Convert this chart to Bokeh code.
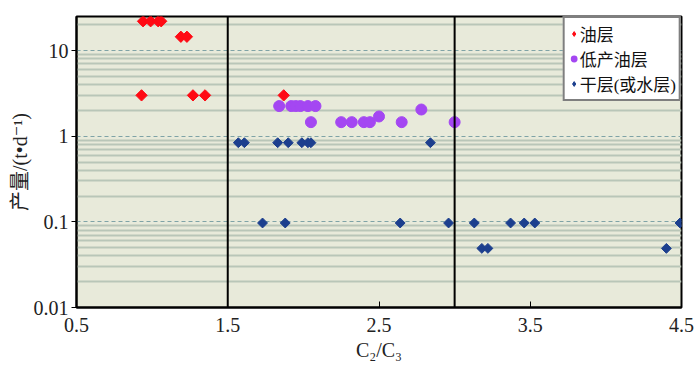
import math
from bokeh.plotting import figure
from bokeh.models import (Range1d, FixedTicker, CustomJSTickFormatter, Span,
                          Legend, LegendItem)
from bokeh.embed import file_html
from bokeh.resources import INLINE

# ---------------- data ----------------
oil_x = [0.94, 0.99, 1.04, 1.06, 1.19, 1.23, 0.93, 1.27, 1.35, 1.87]
oil_y = [22, 22, 22, 22, 14.5, 14.5, 3.0, 3.0, 3.0, 3.0]

low_x = [1.84, 1.92, 1.95, 1.98, 2.03, 2.08, 2.05, 2.25, 2.32, 2.40, 2.44, 2.50, 2.65, 2.78, 3.00]
low_y = [2.25, 2.25, 2.25, 2.25, 2.25, 2.25, 1.46, 1.46, 1.46, 1.46, 1.46, 1.70, 1.46, 2.05, 1.46]

dry_x = [1.57, 1.61, 1.83, 1.90, 1.99, 2.03, 2.05, 2.84,
         1.73, 1.88, 2.64, 2.96, 3.13, 3.37, 3.46, 3.53, 4.49,
         3.18, 3.22, 4.40]
dry_y = [0.84, 0.84, 0.84, 0.84, 0.84, 0.84, 0.84, 0.84,
         0.097, 0.097, 0.097, 0.097, 0.097, 0.097, 0.097, 0.097, 0.097,
         0.049, 0.049, 0.049]

thresholds = [1.5, 3.0]
x_ticks = [0.5, 1.5, 2.5, 3.5, 4.5]
y_ticks = [0.01, 0.1, 1, 10]
y_minor = [m * 10 ** e for e in range(-2, 2) for m in range(2, 10)]

series_names = ["油层", "低产油层", "干层(或水层)"]

# ---------------- figure ----------------
p = figure(width=696, height=384, output_backend="svg", toolbar_location=None,
           x_range=Range1d(0.5, 4.5), y_range=Range1d(0.01, 25),
           y_axis_type="log", min_border_left=76, min_border_top=16,
           min_border_right=15, min_border_bottom=77)
p.background_fill_color = "#e8eada"
p.border_fill_color = "white"
p.outline_line_color = "black"
p.outline_line_width = 2

serif = "Liberation Serif"
mixed = "'Liberation Serif', 'DejaVu Serif', 'Noto Sans CJK SC'"

p.xaxis.ticker = FixedTicker(ticks=x_ticks)
p.yaxis.ticker = FixedTicker(ticks=y_ticks, minor_ticks=y_minor)
p.yaxis.formatter = CustomJSTickFormatter(code="return tick.toString();")

for ax in (p.xaxis, p.yaxis):
    ax.axis_line_color = "black"
    ax.axis_line_width = 2
    ax.major_tick_line_color = "black"
    ax.major_tick_line_width = 1
    ax.minor_tick_line_color = None
    ax.major_label_text_font = serif
    ax.major_label_text_font_size = "20px"
    ax.major_label_text_color = "#222222"
    ax.axis_label_text_font_style = "normal"
    ax.axis_label_text_color = "#222222"

p.xaxis.major_tick_in = 6
p.xaxis.major_tick_out = 0
p.yaxis.major_tick_in = 0
p.yaxis.major_tick_out = 5
p.xaxis.major_label_standoff = 10
p.yaxis.major_label_standoff = 3

p.xaxis.axis_label = "C₂/C₃"
p.xaxis.axis_label_text_font = serif
p.xaxis.axis_label_text_font_size = "20px"
p.xaxis.axis_label_standoff = 4

p.yaxis.axis_label = "产量/(t•d⁻¹)"
p.yaxis.axis_label_text_font = mixed
p.yaxis.axis_label_text_font_size = "20px"
p.yaxis.axis_label_standoff = 0

p.xgrid.grid_line_color = None
p.ygrid.grid_line_color = "#7fa3a6"
p.ygrid.grid_line_dash = "4 3"
p.ygrid.grid_line_width = 1
p.ygrid.minor_grid_line_color = "#b9c6b8"
p.ygrid.minor_grid_line_width = 2

for t in thresholds:
    p.add_layout(Span(location=t, dimension="height", line_color="black", line_width=2))

colors = ["#ff0a14", "#a447f2", "#1c3f8e"]

p.scatter(oil_x, oil_y, marker="square", angle=math.pi / 4, size=8,
          fill_color=colors[0], line_color=colors[0])
p.scatter(low_x, low_y, marker="circle", size=11,
          fill_color=colors[1], line_color=colors[1])
p.scatter(dry_x, dry_y, marker="square", angle=math.pi / 4, size=7,
          fill_color=colors[2], line_color=colors[2])

# legend proxies (small legend glyphs, not drawn in the plot area)
nan = [float("nan")]
g_oil = p.scatter(nan, nan, marker="diamond", fill_color=colors[0], line_color=colors[0], line_width=1)
g_low = p.scatter(nan, nan, marker="circle", fill_color=colors[1], line_color=colors[1], line_width=2)
g_dry = p.scatter(nan, nan, marker="diamond", fill_color=colors[2], line_color=colors[2], line_width=1)

legend = Legend(items=[LegendItem(label=series_names[0], renderers=[g_oil]),
                       LegendItem(label=series_names[1], renderers=[g_low]),
                       LegendItem(label=series_names[2], renderers=[g_dry])],
                location="top_right", margin=0, padding=3, spacing=-4,
                glyph_width=12, glyph_height=21, label_height=21,
                label_standoff=0, label_text_font=mixed,
                label_text_font_size="17px", label_text_color="#111111",
                border_line_color="black", border_line_width=2,
                background_fill_color="white", background_fill_alpha=1)
p.add_layout(legend, "center")

open("out.html", "w").write(file_html(p, INLINE))
